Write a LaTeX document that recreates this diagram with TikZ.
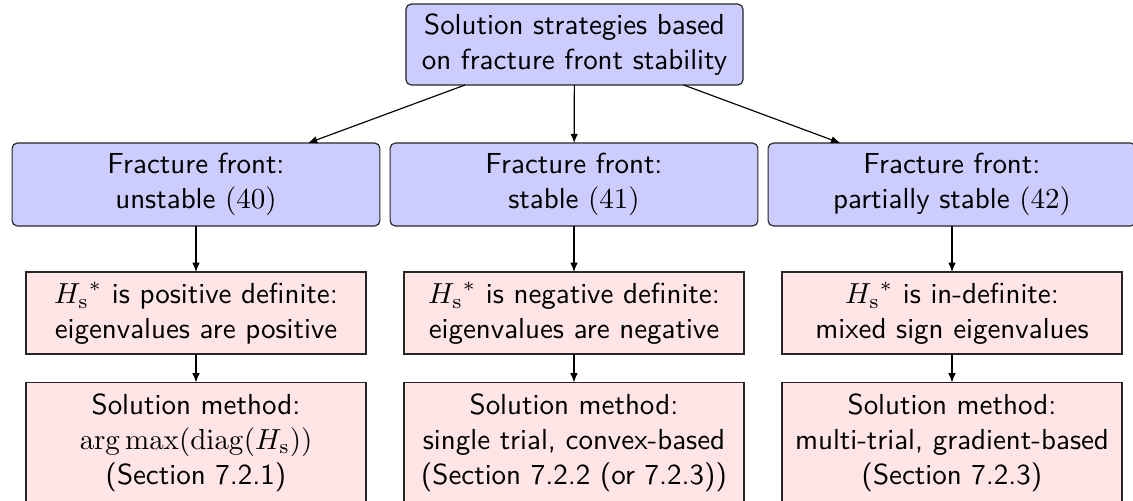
\documentclass[tikz,border=0pt]{standalone}
\usetikzlibrary{arrows.meta}
\begin{document}
\begin{tikzpicture}[x=0.345pt,y=-0.345pt,
  font=\sffamily,
  bluebox/.style={draw=black!85, fill=blue!20, rounded corners=1.8pt, align=center,
    inner sep=0pt, outer sep=0pt, minimum width=126.9pt, minimum height=28.6pt},
  topbox/.style={bluebox, minimum width=116.3pt, minimum height=27.9pt},
  redbox/.style={draw=black!85, fill=red!10, align=center,
    inner sep=0pt, outer sep=0pt, minimum width=117.3pt, minimum height=28.3pt},
  methbox/.style={redbox, minimum height=41.4pt},
  conn/.style={-{Latex[length=3.2pt,width=2.6pt]}, line width=0.4pt}]
\useasboundingbox (0,0) rectangle (1133,500);
\node[topbox] (top) at (574.5,44.5) {Solution strategies based\\on fracture front stability};
\node[bluebox] (b1) at (196,184.5) {Fracture front:\\unstable $(40)$};
\node[bluebox] (b2) at (574,184.5) {Fracture front:\\stable $(41)$};
\node[bluebox] (b3) at (952,184.5) {Fracture front:\\partially stable $(42)$};
\node[redbox] (r1) at (196,313) {${H_\mathrm{s}}^*$ is positive definite:\\eigenvalues are positive};
\node[redbox] (r2) at (574,313) {${H_\mathrm{s}}^*$ is negative definite:\\eigenvalues are negative};
\node[redbox] (r3) at (952,313) {${H_\mathrm{s}}^*$ is in-definite:\\mixed sign eigenvalues};
\node[methbox] (m1) at (196,442.5) {Solution method:\\$\arg\max(\mathrm{diag}(H_\mathrm{s}))$\\(Section 7.2.1)};
\node[methbox] (m2) at (574,442.5) {Solution method:\\single trial, convex-based\\(Section 7.2.2 (or 7.2.3))};
\node[methbox] (m3) at (952,442.5) {Solution method:\\multi-trial, gradient-based\\(Section 7.2.3)};
\draw[conn] (top) -- (b1);
\draw[conn] (top) -- (b2);
\draw[conn] (top) -- (b3);
\foreach \i in {1,2,3}{
  \draw[conn] (b\i) -- (r\i);
  \draw[conn] (r\i) -- (m\i);
}
\end{tikzpicture}
\end{document}
